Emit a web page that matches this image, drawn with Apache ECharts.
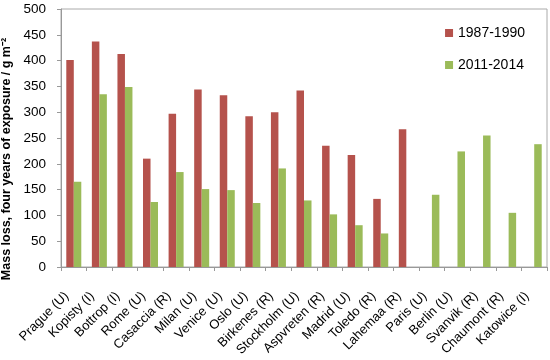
<!DOCTYPE html>
<html><head><meta charset="utf-8">
<script src="https://cdn.jsdelivr.net/npm/echarts@6/dist/echarts.min.js"></script>
<style>html,body{margin:0;padding:0;background:#fff}#c{width:550px;height:360px}</style>
</head><body><div id="c"></div>
<script>
var categories = ['Prague (U)','Kopisty (I)','Bottrop (I)','Rome (U)','Casaccia (R)','Milan (U)','Venice (U)','Oslo (U)','Birkenes (R)','Stockholm (U)','Aspvreten (R)','Madrid (U)','Toledo (R)','Lahemaa (R)','Paris (U)','Berlin (U)','Svanvik (R)','Chaumont (R)','Katowice (I)'];
var series1987 = [401,437,413,210,297,344,333,292,300,342,235,217,132,267,null,null,null,null,null];
var series2011 = [165,335,349,126,184,151,149,124,191,129,102,81,65,null,140,224,255,105,238];
var seriesNames = ['1987-1990','2011-2014'];
var yTicks = {min:0,max:500,interval:50};

var font = 'Liberation Sans';
var chart = echarts.init(document.getElementById('c'));
chart.setOption({
  animation:false,
  textStyle:{fontFamily:font},
  grid:{left:61,top:9,right:3,bottom:93,show:true,borderColor:'#aaa',borderWidth:1,containLabel:false,outerBoundsMode:'none'},
  legend:{
    orient:'vertical', right:20, top:21, itemGap:18, itemWidth:8, itemHeight:8,
    textStyle:{fontSize:14,color:'#000',fontFamily:font}, icon:'rect',
    data:seriesNames
  },
  xAxis:{
    type:'category', data:categories,
    axisLine:{lineStyle:{color:'#999'}},
    axisTick:{show:true,length:4,lineStyle:{color:'#999'}},
    axisLabel:{rotate:45,interval:0,fontSize:13,color:'#000',margin:20,padding:[0,10,0,0]}
  },
  yAxis:{
    type:'value', min:yTicks.min, max:yTicks.max, interval:yTicks.interval,
    name:'Mass loss, four years of exposure / g m\u207B\u00B2',
    nameLocation:'middle', nameGap:45, nameRotate:90,
    nameTextStyle:{fontSize:12.5,fontWeight:'bold',color:'#000',padding:[0,42,0,0]},
    splitLine:{show:false},
    axisLine:{show:true,lineStyle:{color:'#999'}},
    axisTick:{show:true,length:4,lineStyle:{color:'#999'}},
    axisLabel:{fontSize:13.5,color:'#000',margin:15}
  },
  series:[
    {name:seriesNames[0],type:'bar',data:series1987,barWidth:7.5,barGap:'0%',itemStyle:{color:'#B5524C'}},
    {name:seriesNames[1],type:'bar',data:series2011,barWidth:7.5,barGap:'0%',itemStyle:{color:'#9BBB59'}}
  ]
});
</script></body></html>
